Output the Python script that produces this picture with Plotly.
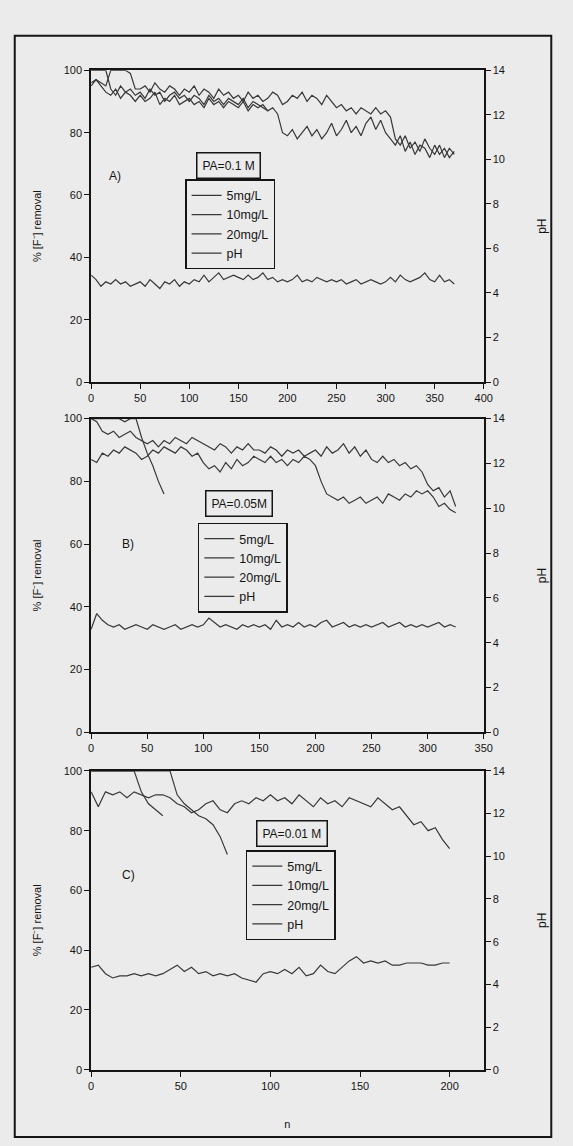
import plotly.graph_objects as go

# ---------------- data ----------------
series_names = ["5mg/L", "10mg/L", "20mg/L", "pH"]
panel_labels = ["A)", "B)", "C)"]
panel_boxes = ["PA=0.1 M", "PA=0.05M", "PA=0.01 M"]
x_ranges = [[0, 400], [0, 350], [0, 219]]
x_ticks = [list(range(0, 401, 50)), list(range(0, 351, 50)), list(range(0, 201, 50))]
removal_ticks = [0, 20, 40, 60, 80, 100]
ph_ticks = [0, 2, 4, 6, 8, 10, 12, 14]

# Panel A (PA = 0.1 M), n step 5
A_step = 5
A_5mg = [96, 97, 95, 93, 92, 94, 91, 93, 92, 90,
         92, 90, 91, 93, 89, 91, 90, 92, 89, 90,
         91, 89, 90, 88, 91, 89, 90, 88, 90, 89,
         88, 90, 87, 89, 88, 89, 87, 88, 86, 80,
         79, 81, 78, 80, 82, 79, 81, 78, 80, 83,
         79, 81, 84, 80, 82, 79, 83, 85, 81, 84,
         80, 78, 76, 79, 74, 77, 73, 76, 75, 72,
         76, 73, 75, 72, 74]
A_10mg = [95, 97, 96, 95, 100, 100, 100, 100, 99, 94,
          94, 95, 93, 96, 94, 93, 95, 94, 92, 94,
          93, 95, 92, 94, 93, 91, 94, 92, 93, 91,
          92, 90, 93, 91, 92, 90, 91, 93, 92, 89,
          90, 92, 91, 93, 90, 92, 91, 89, 92, 90,
          88, 89, 87, 88, 86, 88, 87, 86, 88, 86,
          87, 85, 78, 76, 79, 75, 77, 74, 78, 75,
          73, 76, 72, 75, 73]
A_20mg = [100, 100, 100, 100, 94, 92, 95, 93, 94, 92,
          93, 91, 94, 92, 93, 90, 92, 93, 91, 92,
          90, 92, 91, 89, 92, 90, 91, 89, 91, 90,
          89, 91, 88, 90, 89, 88, 87]
A_pH = [4.8, 4.6, 4.3, 4.5, 4.4, 4.6, 4.4, 4.5, 4.3, 4.4,
        4.5, 4.3, 4.6, 4.4, 4.2, 4.5, 4.4, 4.6, 4.3, 4.5,
        4.4, 4.6, 4.5, 4.8, 4.5, 4.7, 4.9, 4.6, 4.7, 4.8,
        4.7, 4.6, 4.8, 4.6, 4.7, 4.9, 4.6, 4.7, 4.5, 4.6,
        4.5, 4.6, 4.8, 4.5, 4.6, 4.5, 4.7, 4.6, 4.5, 4.6,
        4.5, 4.6, 4.4, 4.5, 4.6, 4.4, 4.5, 4.6, 4.5, 4.4,
        4.5, 4.7, 4.5, 4.8, 4.6, 4.5, 4.6, 4.7, 4.9, 4.6,
        4.5, 4.8, 4.5, 4.6, 4.4]

# Panel B (PA = 0.05 M), n step 5
B_step = 5
B_5mg = [100, 99, 96, 95, 96, 94, 95, 96, 94, 93,
         92, 93, 91, 93, 92, 94, 93, 92, 94, 93,
         92, 91, 90, 92, 91, 89, 91, 90, 92, 90,
         90, 89, 91, 90, 88, 90, 89, 90, 88, 89,
         90, 88, 91, 89, 90, 92, 89, 91, 88, 90,
         87, 86, 88, 86, 87, 85, 86, 84, 85, 83,
         79, 77, 78, 75, 77, 72]
B_10mg = [87, 86, 89, 88, 90, 89, 91, 90, 89, 87,
          88, 90, 89, 91, 90, 89, 91, 90, 88, 89,
          86, 84, 85, 83, 86, 84, 87, 85, 86, 88,
          87, 86, 88, 86, 87, 85, 87, 86, 88, 87,
          85, 80, 76, 75, 74, 75, 73, 74, 75, 73,
          74, 75, 73, 76, 75, 74, 76, 75, 77, 76,
          77, 75, 72, 73, 71, 70]
B_20mg = [100, 100, 100, 100, 100, 100, 99, 100, 100, 94, 89, 85, 80, 76]
B_pH = [4.6, 5.3, 5.0, 4.8, 4.7, 4.8, 4.6, 4.7, 4.8, 4.7,
        4.6, 4.8, 4.7, 4.6, 4.7, 4.8, 4.6, 4.7, 4.8, 4.7,
        4.8, 5.1, 4.9, 4.7, 4.8, 4.7, 4.6, 4.8, 4.7, 4.8,
        4.7, 4.8, 4.6, 5.0, 4.7, 4.8, 4.7, 4.9, 4.7, 4.8,
        4.7, 4.9, 5.0, 4.7, 4.8, 4.9, 4.7, 4.8, 4.7, 4.8,
        4.7, 4.8, 4.9, 4.7, 4.8, 4.9, 4.7, 4.8, 4.7, 4.8,
        4.7, 4.8, 4.9, 4.7, 4.8, 4.7]

# Panel C (PA = 0.01 M), n step 4
C_step = 4
C_5mg = [93, 88, 93, 92, 93, 91, 93, 92, 91, 92,
         92, 91, 89, 88, 86, 87, 89, 90, 87, 86,
         89, 90, 89, 91, 90, 92, 90, 91, 89, 92,
         90, 88, 91, 89, 90, 88, 91, 90, 89, 88,
         91, 89, 87, 88, 85, 82, 83, 80, 81, 77,
         74]
C_10mg = [100, 100, 100, 100, 100, 100, 100, 100, 100, 100,
          100, 100, 92, 89, 87, 85, 84, 82, 78, 72]
C_20mg = [100, 100, 100, 100, 100, 100, 100, 93, 89, 87, 85]
C_pH = [4.8, 4.9, 4.5, 4.3, 4.4, 4.4, 4.5, 4.4, 4.5, 4.4,
        4.5, 4.7, 4.9, 4.6, 4.8, 4.5, 4.6, 4.4, 4.5, 4.4,
        4.5, 4.3, 4.2, 4.1, 4.5, 4.6, 4.5, 4.7, 4.5, 4.8,
        4.4, 4.5, 4.9, 4.6, 4.5, 4.8, 5.1, 5.3, 5.0, 5.1,
        5.0, 5.1, 4.9, 4.9, 5.0, 5.0, 5.0, 4.9, 4.9, 5.0,
        5.0]

panels = [
    (A_step, [A_5mg, A_10mg, A_20mg], A_pH),
    (B_step, [B_5mg, B_10mg, B_20mg], B_pH),
    (C_step, [C_5mg, C_10mg, C_20mg], C_pH),
]

# ---------------- styling / layout ----------------
W, H = 573, 1146
BG = "#ebebeb"
INK = "#151515"
LINE = "#383838"
FONT = "Liberation Sans"

def py(v):  # pixel row -> paper fraction
    return 1 - v / H

x_dom = [90 / W, 491 / W]
y_doms = [[py(380), py(65)], [py(734), py(417)], [py(1075), py(773)]]
legend_pos = [(186, 175), (199, 522), (248, 853)]
label_pos = [(24, 66), (33, 60), (21, 65)]
box_pos = [(140, 69.5), (132, 73), (112, 79)]

fig = go.Figure()
for p, (step, rem, ph) in enumerate(panels):
    k = p + 1
    xa = "x" if k == 1 else f"x{k}"
    yl = "y" if k == 1 else f"y{k}"
    yr = f"y{k + 3}"
    lg = "legend" if k == 1 else f"legend{k}"
    for name, vals in zip(series_names[:3], rem):
        fig.add_trace(go.Scatter(
            x=list(range(0, step * len(vals), step)), y=vals, mode="lines",
            name=name, line=dict(color=LINE, width=1.2),
            xaxis=xa, yaxis=yl, legend=lg, showlegend=True))
    fig.add_trace(go.Scatter(
        x=list(range(0, step * len(ph), step)), y=ph, mode="lines",
        name=series_names[3], line=dict(color=LINE, width=1.2),
        xaxis=xa, yaxis=yr, legend=lg, showlegend=True))

tickfont = dict(family=FONT, size=11, color=INK)
layout = dict(
    width=W, height=H, paper_bgcolor=BG, plot_bgcolor=BG,
    margin=dict(l=0, r=0, t=0, b=0), showlegend=True,
    font=dict(family=FONT, color=INK),
)
annotations = []
for p in range(3):
    k = p + 1
    sx = "" if k == 1 else str(k)
    layout[f"xaxis{sx}"] = dict(
        domain=x_dom, anchor=f"y{sx}", range=x_ranges[p], tickvals=x_ticks[p],
        ticks="outside", ticklen=5, tickwidth=1.2, tickcolor=INK,
        showline=True, mirror=True, linecolor=INK, linewidth=1.6,
        showgrid=False, zeroline=False, tickfont=tickfont,
        title=dict(text="n" if k == 3 else "", font=dict(family=FONT, size=11, color=INK), standoff=30),
    )
    layout[f"yaxis{sx}"] = dict(
        domain=y_doms[p], anchor=f"x{sx}", range=[0, 100], tickvals=removal_ticks,
        ticks="outside", ticklen=5, tickwidth=1.2, tickcolor=INK,
        showline=True, linecolor=INK, linewidth=1.6,
        showgrid=False, zeroline=False, tickfont=tickfont,
        title=dict(text="% [F⁻] removal", font=dict(family=FONT, size=11, color=INK), standoff=20),
    )
    layout[f"yaxis{k + 3}"] = dict(
        overlaying=f"y{sx}", side="right", anchor=f"x{sx}", range=[0, 14], tickvals=ph_ticks,
        ticks="outside", ticklen=5, tickwidth=1.2, tickcolor=INK,
        showline=True, linecolor=INK, linewidth=1.6,
        showgrid=False, zeroline=False, tickfont=tickfont,
        title=dict(text="pH", font=dict(family=FONT, size=12, color=INK), standoff=34),
    )
    lx, ly = legend_pos[p]
    layout["legend" if k == 1 else f"legend{k}"] = dict(
        x=lx / W, y=py(ly), xanchor="left", yanchor="top", bgcolor=BG,
        bordercolor=INK, borderwidth=1.5, tracegroupgap=0, itemwidth=30,
        font=dict(family=FONT, size=12.5, color=INK),
    )
    annotations.append(dict(
        x=label_pos[p][0], y=label_pos[p][1], xref=f"x{sx}", yref=f"y{sx}",
        text=panel_labels[p], showarrow=False, font=dict(family=FONT, size=12, color=INK)))
    annotations.append(dict(
        x=box_pos[p][0], y=box_pos[p][1], xref=f"x{sx}", yref=f"y{sx}",
        text=panel_boxes[p], showarrow=False, bgcolor=BG, bordercolor=INK,
        borderwidth=1.5, borderpad=5, font=dict(family=FONT, size=12, color=INK)))

layout["annotations"] = annotations
layout["shapes"] = [dict(type="rect", xref="paper", yref="paper",
                         x0=12 / W, x1=560 / W, y0=py(1143), y1=py(30),
                         line=dict(color=INK, width=2))]
fig.update_layout(**layout)
fig.write_html(
    "out.html",
    config={"displayModeBar": False},
    post_script=(
        "document.documentElement.style.overflow='hidden';"
        "document.body.style.overflow='hidden';"
        "document.body.style.margin='0px';"
        "document.body.style.background='#ebebeb';"
    ),
)
